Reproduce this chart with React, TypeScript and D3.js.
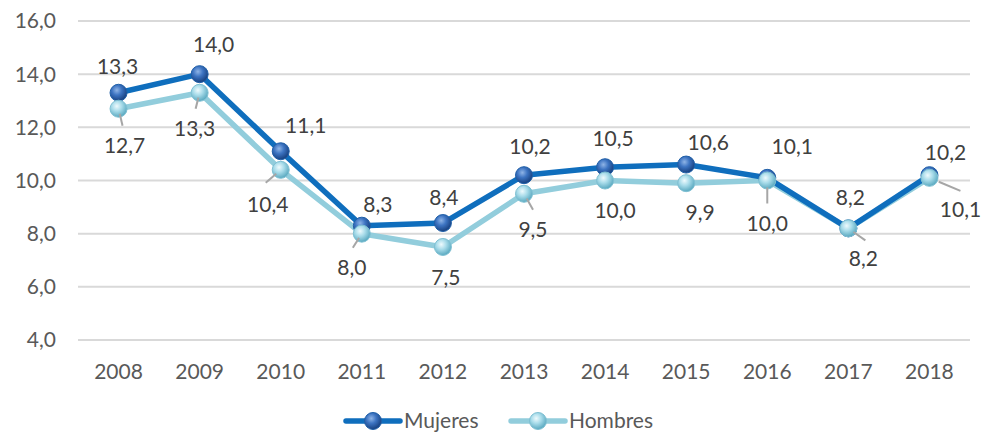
import * as d3 from "d3";

const years = ["2008", "2009", "2010", "2011", "2012", "2013", "2014", "2015", "2016", "2017", "2018"];
const mujeres = [13.3, 14.0, 11.1, 8.3, 8.4, 10.2, 10.5, 10.6, 10.1, 8.2, 10.2];
const hombres = [12.7, 13.3, 10.4, 8.0, 7.5, 9.5, 10.0, 9.9, 10.0, 8.2, 10.1];
const yTicks = [4, 6, 8, 10, 12, 14, 16];

// label placement (pixel offsets from marker), like the hand-moved labels in the original
const mujOffsets: [number, number][] = [
  [-1, -26], [14, -30], [25, -26], [16, -21], [1, -25], [6, -29], [8, -29], [22, -22], [25, -31], [2, -31], [16, -23],
];
const homOffsets: [number, number][] = [
  [6, 37], [-5, 36], [-13, 35], [-10, 34], [3, 31], [9, 36], [10, 30], [14, 29], [0, 43], [15, 30], [31, 32],
];
// leader line end points for Hombres labels (null = no leader)
const homLeaders: ([number, number] | null)[] = [
  [4, 17], [-4, 16], [-15, 13], [-9, 14], null, [9, 16], null, null, [0, 23], [17, 12], [31, 13],
];

const W = 984;
const H = 435;
const FONT = "Lato, 'Open Sans', sans-serif";

export default function App() {
  const x = d3.scaleBand().domain(years).range([78, 970]);
  const y = d3.scaleLinear().domain([4, 16]).range([340, 21]);
  const cx = (yr: string) => (x(yr) ?? 0) + x.bandwidth() / 2;

  const line = d3
    .line<number>()
    .x((_, i) => cx(years[i]))
    .y((d) => y(d));

  const fmt = (v: number) => v.toFixed(1).replace(".", ",");

  return (
    <svg width={W} height={H} style={{ position: "absolute", left: 0, top: 0 }}>
      <defs>
        <radialGradient id="gMuj" cx="40%" cy="35%" r="65%">
          <stop offset="0%" stopColor="#8fb4e6" />
          <stop offset="45%" stopColor="#3d74c2" />
          <stop offset="100%" stopColor="#17407f" />
        </radialGradient>
        <radialGradient id="gHom" cx="40%" cy="35%" r="65%">
          <stop offset="0%" stopColor="#eefafd" />
          <stop offset="45%" stopColor="#a9dcea" />
          <stop offset="100%" stopColor="#5aa9c0" />
        </radialGradient>
      </defs>
      <rect width={W} height={H} fill="#ffffff" />

      {/* gridlines + y labels */}
      {yTicks.map((t) => (
        <g key={t}>
          <line x1={78} x2={970} y1={y(t)} y2={y(t)} stroke="#d9d9d9" strokeWidth={2} />
          <text
            x={56}
            y={y(t)}
            dy="0.35em"
            textAnchor="end"
            fontFamily={FONT}
            fontSize={21}
            fill="#595959"
          >
            {fmt(t)}
          </text>
        </g>
      ))}

      {/* x labels */}
      {years.map((yr) => (
        <text
          key={yr}
          x={cx(yr)}
          y={379}
          textAnchor="middle"
          fontFamily={FONT}
          fontSize={21}
          fill="#595959"
        >
          {yr}
        </text>
      ))}

      {/* lines */}
      <path d={line(hombres) ?? ""} fill="none" stroke="#92cddc" strokeWidth={5.5} strokeLinejoin="round" />
      <path d={line(mujeres) ?? ""} fill="none" stroke="#0f6ebd" strokeWidth={5.5} strokeLinejoin="round" />

      {/* markers */}
      {mujeres.map((v, i) => (
        <circle key={"m" + i} cx={cx(years[i])} cy={y(v)} r={8.5} fill="url(#gMuj)" stroke="#1f5fa8" strokeWidth={1} />
      ))}
      {hombres.map((v, i) => (
        <circle key={"h" + i} cx={cx(years[i])} cy={y(v)} r={8.5} fill="url(#gHom)" stroke="#7fc0d3" strokeWidth={1} />
      ))}

      {/* leader lines */}
      {hombres.map((v, i) => {
        const l = homLeaders[i];
        if (!l) return null;
        const px = cx(years[i]);
        const py = y(v);
        return (
          <line key={"ld" + i} x1={px + l[0] * 0.3} y1={py + l[1] * 0.3} x2={px + l[0]} y2={py + l[1]} stroke="#a6a6a6" strokeWidth={2} />
        );
      })}

      {/* data labels */}
      {mujeres.map((v, i) => (
        <text
          key={"tm" + i}
          x={cx(years[i]) + mujOffsets[i][0]}
          y={y(v) + mujOffsets[i][1]}
          dy="0.35em"
          textAnchor="middle"
          fontFamily={FONT}
          fontSize={21}
          fill="#404040"
        >
          {fmt(v)}
        </text>
      ))}
      {hombres.map((v, i) => (
        <text
          key={"th" + i}
          x={cx(years[i]) + homOffsets[i][0]}
          y={y(v) + homOffsets[i][1]}
          dy="0.35em"
          textAnchor="middle"
          fontFamily={FONT}
          fontSize={21}
          fill="#404040"
        >
          {fmt(v)}
        </text>
      ))}

      {/* legend */}
      <g fontFamily={FONT} fontSize={21} fill="#595959">
        <line x1={346} x2={400} y1={421} y2={421} stroke="#0f6ebd" strokeWidth={5.5} strokeLinecap="round" />
        <circle cx={373} cy={421} r={8.5} fill="url(#gMuj)" stroke="#1f5fa8" strokeWidth={1} />
        <text x={404} y={421} dy="0.35em">Mujeres</text>
        <line x1={511} x2={565} y1={421} y2={421} stroke="#92cddc" strokeWidth={5.5} strokeLinecap="round" />
        <circle cx={538} cy={421} r={8.5} fill="url(#gHom)" stroke="#7fc0d3" strokeWidth={1} />
        <text x={569} y={421} dy="0.35em">Hombres</text>
      </g>
    </svg>
  );
}
